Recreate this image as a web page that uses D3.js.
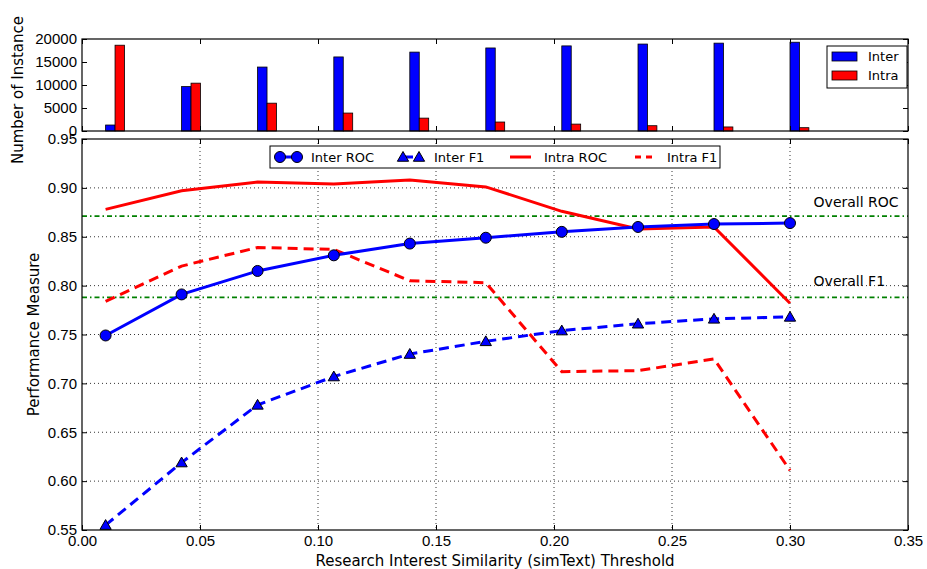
<!DOCTYPE html>
<html>
<head>
<meta charset="utf-8">
<script src="https://cdn.jsdelivr.net/npm/d3@7"></script>
<style>
  body { margin: 0; background: #fff; }
  svg { font-family: "DejaVu Sans", sans-serif; }
  .axis text { font-size: 15px; fill: #000; }
  .axis path { display: none; }
  .axis line { stroke: #000; stroke-width: 1; }
</style>
</head>
<body>
<div id="chart"></div>
<script>
// thresholds (simText)
const thresholds = [0.01, 0.0422, 0.0744, 0.1067, 0.1389, 0.1711, 0.2033, 0.2356, 0.2678, 0.30];

// instance counts (top panel)
const interCount = [1300, 9650, 13900, 16100, 17150, 18050, 18500, 18900, 19100, 19300];
const intraCount = [18650, 10400, 6050, 3900, 2800, 1950, 1500, 1150, 880, 720];

// performance measures (bottom panel)
const interROC = [0.749, 0.791, 0.815, 0.831, 0.843, 0.849, 0.855, 0.860, 0.863, 0.864];
const interF1  = [0.555, 0.619, 0.678, 0.707, 0.730, 0.743, 0.754, 0.761, 0.766, 0.768];
const intraROC = [0.878, 0.897, 0.906, 0.904, 0.908, 0.901, 0.876, 0.858, 0.860, 0.782];
const intraF1  = [0.784, 0.820, 0.839, 0.837, 0.805, 0.803, 0.712, 0.713, 0.725, 0.611];

const overallROC = 0.871;
const overallF1 = 0.788;

const xTicks = [0, 0.05, 0.10, 0.15, 0.20, 0.25, 0.30, 0.35];
const yTicks = [0.55, 0.60, 0.65, 0.70, 0.75, 0.80, 0.85, 0.90, 0.95];
const countTicks = [0, 5000, 10000, 15000, 20000];

const width = 927, height = 569;
const left = 82, right = 908;
const top1 = 39, bottom1 = 131;
const top2 = 139, bottom2 = 530;
const barW = 0.004;

const svg = d3.select("#chart").append("svg")
  .attr("width", width).attr("height", height);

const x = d3.scaleLinear().domain([0, 0.35]).range([left, right]);
const yCount = d3.scaleLinear().domain([0, 20000]).range([bottom1, top1]);
const y = d3.scaleLinear().domain([0.55, 0.95]).range([bottom2, top2]);

// ---------- top panel: number of instances ----------
const countPanel = svg.append("g");

countPanel.selectAll("rect.inter")
  .data(interCount)
  .enter()
  .append("rect")
  .attr("x", (d, i) => x(thresholds[i]))
  .attr("y", d => yCount(d))
  .attr("width", x(barW) - x(0))
  .attr("height", d => yCount(0) - yCount(d))
  .attr("fill", "#0000ff")
  .attr("stroke", "#000").attr("stroke-width", 0.8);

countPanel.selectAll("rect.intra")
  .data(intraCount)
  .enter()
  .append("rect")
  .attr("x", (d, i) => x(thresholds[i] + barW))
  .attr("y", d => yCount(d))
  .attr("width", x(barW) - x(0))
  .attr("height", d => yCount(0) - yCount(d))
  .attr("fill", "#ff0000")
  .attr("stroke", "#000").attr("stroke-width", 0.8);

// inward ticks on all sides
countPanel.append("g").attr("class", "axis")
  .attr("transform", `translate(${left},0)`)
  .call(d3.axisLeft(yCount).tickValues(countTicks).tickSizeInner(-5).tickSizeOuter(0).tickPadding(5).tickFormat(d3.format("d")));
countPanel.append("g").attr("class", "axis")
  .attr("transform", `translate(${right},0)`)
  .call(d3.axisRight(yCount).tickValues(countTicks).tickSizeInner(-5).tickSizeOuter(0).tickFormat(""));
countPanel.append("g").attr("class", "axis")
  .attr("transform", `translate(0,${bottom1})`)
  .call(d3.axisBottom(x).tickValues(xTicks).tickSizeInner(-5).tickSizeOuter(0).tickFormat(""));
countPanel.append("g").attr("class", "axis")
  .attr("transform", `translate(0,${top1})`)
  .call(d3.axisTop(x).tickValues(xTicks).tickSizeInner(-5).tickSizeOuter(0).tickFormat(""));

countPanel.append("rect")
  .attr("x", left).attr("y", top1)
  .attr("width", right - left).attr("height", bottom1 - top1)
  .attr("fill", "none").attr("stroke", "#000").attr("stroke-width", 1.2);

svg.append("text")
  .attr("transform", `translate(23,${(top1 + bottom1) / 2 + 5}) rotate(-90)`)
  .attr("text-anchor", "middle")
  .style("font-size", "15px")
  .text("Number of Instance");

// top legend
const leg1 = svg.append("g");
leg1.append("rect")
  .attr("x", 827).attr("y", 46).attr("width", 80).attr("height", 42)
  .attr("fill", "#fff").attr("stroke", "#000").attr("stroke-width", 1);
[["Inter", "#0000ff"], ["Intra", "#ff0000"]].forEach(([label, col], i) => {
  leg1.append("rect")
    .attr("x", 832).attr("y", 52 + i * 19).attr("width", 25).attr("height", 9)
    .attr("fill", col).attr("stroke", "#000").attr("stroke-width", 0.8);
  leg1.append("text")
    .attr("x", 868).attr("y", 61 + i * 19)
    .style("font-size", "13px")
    .text(label);
});

// ---------- bottom panel: performance ----------
const main = svg.append("g");

// dotted grid
main.selectAll("line.gx")
  .data(xTicks.slice(1, -1))
  .enter()
  .append("line")
  .attr("x1", d => x(d)).attr("x2", d => x(d))
  .attr("y1", top2).attr("y2", bottom2)
  .attr("stroke", "#000").attr("stroke-width", 0.8).attr("stroke-dasharray", "1,3");
main.selectAll("line.gy")
  .data(yTicks.slice(1, -1))
  .enter()
  .append("line")
  .attr("x1", left).attr("x2", right)
  .attr("y1", d => y(d)).attr("y2", d => y(d))
  .attr("stroke", "#000").attr("stroke-width", 0.8).attr("stroke-dasharray", "1,3");

// overall reference lines
[overallROC, overallF1].forEach(v => {
  main.append("line")
    .attr("x1", left).attr("x2", right)
    .attr("y1", y(v)).attr("y2", y(v))
    .attr("stroke", "#008000").attr("stroke-width", 1.8)
    .attr("stroke-dasharray", "5,3,1.5,3");
});
main.append("text").attr("x", x(0.31)).attr("y", y(0.88))
  .style("font-size", "14px").text("Overall ROC");
main.append("text").attr("x", x(0.31)).attr("y", y(0.80))
  .style("font-size", "14px").text("Overall F1");

const line = d3.line()
  .x((d, i) => x(thresholds[i]))
  .y(d => y(d));

main.append("path").attr("d", line(intraROC))
  .attr("fill", "none").attr("stroke", "#ff0000").attr("stroke-width", 3);
main.append("path").attr("d", line(intraF1))
  .attr("fill", "none").attr("stroke", "#ff0000").attr("stroke-width", 3)
  .attr("stroke-dasharray", "10,6");
main.append("path").attr("d", line(interROC))
  .attr("fill", "none").attr("stroke", "#0000ff").attr("stroke-width", 3);
main.append("path").attr("d", line(interF1))
  .attr("fill", "none").attr("stroke", "#0000ff").attr("stroke-width", 3)
  .attr("stroke-dasharray", "10,6");

const tri = d3.symbol().type(d3.symbolTriangle).size(55);

main.selectAll("circle.roc")
  .data(interROC)
  .enter()
  .append("circle")
  .attr("cx", (d, i) => x(thresholds[i]))
  .attr("cy", d => y(d))
  .attr("r", 5.5)
  .attr("fill", "#0000ff").attr("stroke", "#000").attr("stroke-width", 1);

main.selectAll("path.f1")
  .data(interF1)
  .enter()
  .append("path")
  .attr("d", tri)
  .attr("transform", (d, i) => `translate(${x(thresholds[i])},${y(d) + 1})`)
  .attr("fill", "#0000ff").attr("stroke", "#000").attr("stroke-width", 1);

// axes with inward ticks
main.append("g").attr("class", "axis")
  .attr("transform", `translate(0,${bottom2})`)
  .call(d3.axisBottom(x).tickValues(xTicks).tickSizeInner(-5).tickSizeOuter(0).tickPadding(5).tickFormat(d3.format(".2f")));
main.append("g").attr("class", "axis")
  .attr("transform", `translate(0,${top2})`)
  .call(d3.axisTop(x).tickValues(xTicks).tickSizeInner(-5).tickSizeOuter(0).tickFormat(""));
main.append("g").attr("class", "axis")
  .attr("transform", `translate(${left},0)`)
  .call(d3.axisLeft(y).tickValues(yTicks).tickSizeInner(-5).tickSizeOuter(0).tickPadding(5).tickFormat(d3.format(".2f")));
main.append("g").attr("class", "axis")
  .attr("transform", `translate(${right},0)`)
  .call(d3.axisRight(y).tickValues(yTicks).tickSizeInner(-5).tickSizeOuter(0).tickFormat(""));

main.append("rect")
  .attr("x", left).attr("y", top2)
  .attr("width", right - left).attr("height", bottom2 - top2)
  .attr("fill", "none").attr("stroke", "#000").attr("stroke-width", 1.2);

svg.append("text")
  .attr("transform", `translate(39,${(top2 + bottom2) / 2}) rotate(-90)`)
  .attr("text-anchor", "middle")
  .style("font-size", "15px")
  .text("Performance Measure");

svg.append("text")
  .attr("x", (left + right) / 2).attr("y", 566)
  .attr("text-anchor", "middle")
  .style("font-size", "15px")
  .text("Research Interest Similarity (simText) Threshold");

// main legend
const leg2 = svg.append("g");
leg2.append("rect")
  .attr("x", 270).attr("y", 146).attr("width", 450).attr("height", 22)
  .attr("fill", "#fff").attr("stroke", "#000").attr("stroke-width", 1);
const ly = 157;
leg2.append("line").attr("x1", 280).attr("x2", 297).attr("y1", ly).attr("y2", ly)
  .attr("stroke", "#0000ff").attr("stroke-width", 3);
[280, 297].forEach(cx => leg2.append("circle").attr("cx", cx).attr("cy", ly).attr("r", 5.5)
  .attr("fill", "#0000ff").attr("stroke", "#000"));
leg2.append("line").attr("x1", 403).attr("x2", 419).attr("y1", ly).attr("y2", ly)
  .attr("stroke", "#0000ff").attr("stroke-width", 3).attr("stroke-dasharray", "10,6");
[403, 419].forEach(cx => leg2.append("path").attr("d", tri)
  .attr("transform", `translate(${cx},${ly + 1})`)
  .attr("fill", "#0000ff").attr("stroke", "#000"));
leg2.append("line").attr("x1", 510).attr("x2", 531).attr("y1", ly).attr("y2", ly)
  .attr("stroke", "#ff0000").attr("stroke-width", 3);
leg2.append("line").attr("x1", 635).attr("x2", 654).attr("y1", ly).attr("y2", ly)
  .attr("stroke", "#ff0000").attr("stroke-width", 3).attr("stroke-dasharray", "6,5");
[["Inter ROC", 311], ["Inter F1", 434], ["Intra ROC", 544], ["Intra F1", 667]].forEach(([t, tx]) => {
  leg2.append("text").attr("x", tx).attr("y", ly + 5)
    .style("font-size", "13px").text(t);
});
</script>
</body>
</html>
